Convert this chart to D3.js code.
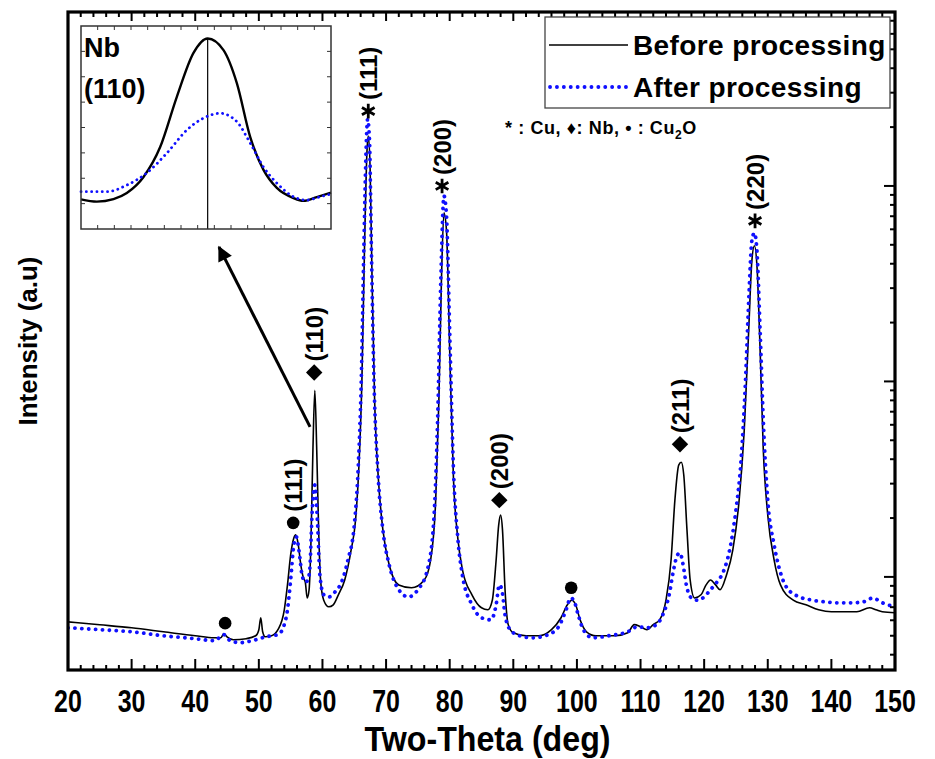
<!DOCTYPE html>
<html>
<head>
<meta charset="utf-8">
<script src="https://cdn.jsdelivr.net/npm/d3@7"></script>
<style>
  body { margin: 0; background: #fff; }
</style>
</head>
<body>
<div id="chart"></div>
<script>
// XRD pattern, counts (log intensity axis)
const beforeTheta = [20, 25, 30, 35, 40, 43, 44, 44.5, 45, 46, 48, 49.5, 50, 50.3, 50.6, 51, 52, 53, 54, 54.5,
  55, 55.5, 55.8, 56.2, 56.6, 57, 57.3, 57.6, 57.9, 58.2, 58.5, 58.8, 59.1, 59.4, 59.7, 60.2, 61, 61.7, 62.5, 63.5,
  64.5, 65.2, 65.7, 66.2, 66.6, 67, 67.2, 67.5, 67.8, 68.2, 68.8, 69.5, 70.5, 72, 74, 76, 77, 77.8, 78.3, 78.7,
  79.1, 79.5, 80, 80.6, 81.3, 82, 83.5, 85, 86, 86.7, 87.3, 87.7, 88, 88.3, 88.7, 89.2, 90, 92, 94, 96,
  97.5, 98.5, 99.2, 99.8, 100.5, 101.5, 103, 106, 108, 109, 110, 111, 112, 113, 114, 114.8, 115.4, 116, 116.4, 116.8,
  117.3, 117.8, 118.5, 119.5, 120.3, 121, 121.8, 122.5, 123.5, 124.5, 125.5, 126.3, 127, 127.5, 127.9, 128.3, 128.8, 129.3, 130, 131,
  132, 134, 136, 138, 140, 142, 144, 146, 147, 148, 150]
const beforeIntensity = [58.9, 56.9, 54.9, 52.4, 50, 48.8, 48.8, 51.2, 49.4, 47.7, 48.3, 50, 53.7, 61.8, 52.4, 49.4, 50, 53.7, 67.9, 91,
  129.5, 158, 164, 146, 115, 99, 94, 78, 86, 155, 445, 900, 445, 174, 96.5, 76, 70.3, 72, 81, 96.5,
  137, 195, 351, 1012, 4660, 15090, 17990, 11930, 3275, 800, 313, 174, 115, 91, 88, 96.5, 122, 247, 800, 3275,
  7280, 5890, 1439, 313, 155, 109, 81, 69.5, 67.9, 76, 122, 184, 207, 174, 86, 57, 51.8, 50, 50, 53.7,
  61.8, 72, 76, 72, 60.3, 52.4, 50, 50, 51.8, 57, 55.6, 53.7, 57, 60.3, 76, 122, 247, 373, 386, 331,
  174, 96.5, 78, 81, 91, 96.5, 91, 86, 102, 137, 247, 562, 1820, 4140, 4940, 3906, 1439, 445, 207, 122,
  91, 76, 72, 67.9, 66.3, 66.3, 66.3, 69.5, 67.9, 66.3, 65.5]

const afterTheta = [20, 25, 30, 35, 40, 43, 44.5, 45.5, 47, 49, 50.5, 52, 53, 54, 54.5, 55, 55.5, 55.9, 56.3, 56.8,
  57.3, 57.7, 58, 58.4, 58.8, 59.2, 59.6, 60.2, 61, 62, 63, 64, 65, 65.6, 66.1, 66.5, 66.9, 67.1, 67.4, 67.7,
  68.1, 68.7, 69.5, 70.5, 72, 73.5, 75, 76.5, 77.5, 78.1, 78.6, 79.1, 79.5, 80, 80.6, 81.3, 82, 83.5, 85, 86.5,
  87.3, 87.8, 88.2, 88.7, 89.5, 91, 93, 95, 97, 98.3, 99, 99.5, 100.2, 101, 102.5, 105, 108, 109.5, 111, 112.5,
  113.5, 114.5, 115.2, 115.8, 116.2, 116.7, 117.2, 118, 119, 120, 121, 122, 123, 124, 125, 125.8, 126.5, 127, 127.5, 127.9,
  128.3, 128.8, 129.3, 130, 131, 132, 133, 135, 137, 139, 141, 143, 145, 146.5, 148, 150]
const afterIntensity = [54.9, 53.7, 52.4, 50, 48.3, 47.2, 50.6, 47.2, 46.1, 47.2, 48.8, 50, 50.6, 57, 67.9, 96.5, 146, 160, 137, 102,
  94, 96.5, 109, 220, 295, 195, 102, 81, 79, 84, 94, 122, 184, 351, 1012, 4660, 16970, 21980, 16970, 4660,
  1012, 351, 174, 115, 86, 79, 86, 109, 195, 632, 3275, 8890, 7030, 1820, 351, 155, 102, 72, 61.8, 60.3,
  72, 91, 86, 64, 53.7, 50, 48.8, 50, 54.9, 67.9, 78, 76, 64, 53.7, 48.8, 50, 52.4, 55.6, 54.9, 57,
  64, 81, 109, 129.5, 132.6, 115, 91, 78, 76, 79, 86, 94, 106, 137, 220, 395, 1012, 2589, 5240, 5754,
  4660, 1820, 632, 247, 146, 105, 88, 79, 76, 74.5, 73.7, 73.7, 74.5, 78, 73.7, 70.3]

// inset: Nb (110) close-up, linear intensity
const insetBeforeTheta = [57.5, 57.69, 57.89, 58.05, 58.25, 58.45, 58.65, 58.85, 59.02, 59.21, 59.37, 59.53, 59.69, 59.85, 60.05, 60.17, 60.33, 60.5]
const insetBeforeIntensity = [267, 258, 268, 292, 355, 473, 671, 844, 901, 855, 725, 513, 383, 312, 272, 261, 276, 293]
const insetAfterTheta = [57.5, 57.81, 58.05, 58.29, 58.53, 58.77, 58.97, 59.17, 59.37, 59.53, 59.69, 59.85, 60.05, 60.21, 60.37, 60.5]
const insetAfterIntensity = [297, 297, 323, 371, 449, 540, 587, 606, 573, 489, 394, 331, 277, 264, 277, 288]
const insetPeakTheta = 59.02
const insetPeakIntensity = 901

const xTickValues = [20, 30, 40, 50, 60, 70, 80, 90, 100, 110, 120, 130, 140, 150]

// peak markers
const peakTheta = [44.7, 55.4, 58.7, 67.2, 78.8, 87.8, 99.1, 116.2, 128.0]
const peakPhase = ["Cu2O", "Cu2O", "Nb", "Cu", "Cu", "Nb", "Cu2O", "Nb", "Cu"]
const peakHkl = ["", "(111)", "(110)", "(111)", "(200)", "(200)", "", "(211)", "(220)"]
const markerIntensity = [58, 189, 1111, 24150, 10000, 247, 88, 477, 6625]

const seriesNames = ["Before processing", "After processing"]

const W = 935, H = 759
const margin = { top: 12, right: 40, bottom: 89, left: 68 }
const plotW = W - margin.left - margin.right
const plotH = H - margin.top - margin.bottom
const sans = "'Liberation Sans', Arial, sans-serif"
const BLUE = "#1010ff"

const svg = d3.select("#chart").append("svg")
  .attr("width", W).attr("height", H)

const g = svg.append("g").attr("transform", `translate(${margin.left},${margin.top})`)

const x = d3.scaleLinear().domain([20, 150]).range([0, plotW])
const y = d3.scaleLog().domain([33.4, 77600]).range([plotH, 0])

g.append("clipPath").attr("id", "clip")
  .append("rect").attr("width", plotW).attr("height", plotH)

const line = d3.line()
  .x(d => x(d[0])).y(d => y(d[1]))
  .curve(d3.curveMonotoneX)

const before = d3.zip(beforeTheta, beforeIntensity)
const after = d3.zip(afterTheta, afterIntensity)

const curves = g.append("g").attr("clip-path", "url(#clip)")
curves.append("path").datum(before)
  .attr("d", line).attr("fill", "none")
  .attr("stroke", "#000").attr("stroke-width", 1.6)
curves.append("path").datum(after)
  .attr("d", line).attr("fill", "none")
  .attr("stroke", BLUE).attr("stroke-width", 3.8)
  .attr("stroke-linecap", "round")
  .attr("stroke-dasharray", "0.1 6.8")

// axes: bottom and top (inward ticks), right log ticks, no labels on y
const minorX = d3.range(20, 150.01, 2)
const bottomAxis = g.append("g").attr("transform", `translate(0,${plotH})`)
bottomAxis.selectAll("line").data(minorX).join("line")
  .attr("x1", d => x(d)).attr("x2", d => x(d))
  .attr("y1", 0).attr("y2", d => d % 10 === 0 ? -11 : -5)
  .attr("stroke", "#000").attr("stroke-width", 2)
// narrow bold digits: squeeze the sans face horizontally
bottomAxis.selectAll("text").data(xTickValues).join("text")
  .attr("transform", d => `translate(${x(d)},42) scale(0.78,1)`)
  .attr("text-anchor", "middle")
  .style("font", `bold 32px ${sans}`)
  .text(d => d)

const topAxis = g.append("g")
topAxis.selectAll("line").data(minorX).join("line")
  .attr("x1", d => x(d)).attr("x2", d => x(d))
  .attr("y1", 0).attr("y2", d => d % 10 === 0 ? 9 : 5)
  .attr("stroke", "#000").attr("stroke-width", 2)

const yTicks = []
for (let dec = 10; dec <= 10000; dec *= 10) {
  for (let m = 1; m < 10; m++) {
    const v = dec * m
    if (v >= 33.4 && v <= 77600) yTicks.push(v)
  }
}
const rightAxis = g.append("g").attr("transform", `translate(${plotW},0)`)
rightAxis.selectAll("line").data(yTicks).join("line")
  .attr("y1", d => y(d)).attr("y2", d => y(d))
  .attr("x1", 0).attr("x2", d => [100, 1000, 10000].includes(d) ? -11 : -5)
  .attr("stroke", "#000").attr("stroke-width", 2)

g.append("rect")
  .attr("width", plotW).attr("height", plotH)
  .attr("fill", "none").attr("stroke", "#000").attr("stroke-width", 3.2)

// axis titles
svg.append("text")
  .attr("transform", `translate(${margin.left + plotW / 2 + 6},751) scale(0.92,1)`)
  .attr("text-anchor", "middle")
  .style("font", `bold 35px ${sans}`)
  .text("Two-Theta (deg)")
svg.append("text")
  .attr("transform", `translate(37,${margin.top + plotH / 2}) rotate(-90)`)
  .attr("text-anchor", "middle")
  .style("font", `bold 26px ${sans}`)
  .text("Intensity (a.u)")

// peak markers and hkl labels
const symbolFor = {
  Cu: d3.symbol(d3.symbolAsterisk, 150),
  Nb: d3.symbol(d3.symbolSquare, 135),
  Cu2O: d3.symbol(d3.symbolCircle, 125)
}
const peaks = g.append("g").selectAll("g")
  .data(d3.range(peakTheta.length))
  .join("g")
  .attr("transform", i => `translate(${x(peakTheta[i])},${y(markerIntensity[i])})`)
peaks.append("path")
  .attr("d", i => symbolFor[peakPhase[i]]())
  .attr("transform", i => peakPhase[i] === "Nb" ? "rotate(45)" : null)
  .attr("fill", i => peakPhase[i] === "Cu" ? "none" : "#000")
  .attr("stroke", i => peakPhase[i] === "Cu" ? "#000" : "none")
  .attr("stroke-width", 2.8)
peaks.append("text")
  .attr("transform", "translate(0,-11) rotate(-90)")
  .attr("dy", "0.36em")
  .style("font", `bold 24px ${sans}`)
  .text(i => peakHkl[i])

// legend
const legend = svg.append("g")
legend.append("rect")
  .attr("x", 545).attr("y", 17).attr("width", 345).attr("height", 91)
  .attr("fill", "#fff").attr("stroke", "#444").attr("stroke-width", 1.3)
legend.append("line")
  .attr("x1", 549).attr("x2", 628).attr("y1", 45).attr("y2", 45)
  .attr("stroke", "#000").attr("stroke-width", 1.6)
legend.append("line")
  .attr("x1", 550).attr("x2", 628).attr("y1", 87).attr("y2", 87)
  .attr("stroke", BLUE).attr("stroke-width", 3.8)
  .attr("stroke-linecap", "round").attr("stroke-dasharray", "0.1 6.8")
legend.selectAll("text.series").data(seriesNames).join("text")
  .attr("class", "series")
  .attr("x", 633).attr("y", (d, i) => 55 + i * 42)
  .style("font", `bold 28px ${sans}`)
  .style("letter-spacing", "0.4px")
  .text(d => d)

const key = svg.append("text")
  .attr("x", 505).attr("y", 134)
  .style("font", `bold 18px ${sans}`)
  .style("letter-spacing", "0.6px")
key.append("tspan").text("* : Cu,  \u2666: Nb,  \u2022 : Cu")
key.append("tspan").attr("dy", 5).style("font-size", "12px").text("2")
key.append("tspan").attr("dy", -5).text("O")

// inset
const inset = { x: 81, y: 26, w: 250, h: 203 }
const ix = d3.scaleLinear().domain([57.5, 60.5]).range([0, inset.w])
const iy = d3.scaleLinear().domain([150, 950]).range([inset.h, 0])
const ig = svg.append("g").attr("transform", `translate(${inset.x},${inset.y})`)
ig.append("rect").attr("width", inset.w).attr("height", inset.h).attr("fill", "#fff")

const iline = d3.line().x(d => ix(d[0])).y(d => iy(d[1])).curve(d3.curveMonotoneX)
ig.append("line")
  .attr("x1", ix(insetPeakTheta)).attr("x2", ix(insetPeakTheta))
  .attr("y1", inset.h).attr("y2", iy(insetPeakIntensity))
  .attr("stroke", "#000").attr("stroke-width", 1.2)
ig.append("path").datum(d3.zip(insetBeforeTheta, insetBeforeIntensity))
  .attr("d", iline).attr("fill", "none")
  .attr("stroke", "#000").attr("stroke-width", 2.4)
ig.append("path").datum(d3.zip(insetAfterTheta, insetAfterIntensity))
  .attr("d", iline).attr("fill", "none")
  .attr("stroke", BLUE).attr("stroke-width", 2.8)
  .attr("stroke-linecap", "round").attr("stroke-dasharray", "0.1 5.2")

const ixTicks = d3.range(57.7, 60.41, 0.2)
const iyTicks = d3.range(250, 901, 100)
ig.selectAll("line.tb").data(ixTicks.flatMap(t => [[t, 0], [t, inset.h]])).join("line")
  .attr("class", "tb")
  .attr("x1", d => ix(d[0])).attr("x2", d => ix(d[0]))
  .attr("y1", d => d[1]).attr("y2", d => d[1] === 0 ? 4 : inset.h - 4)
  .attr("stroke", "#333").attr("stroke-width", 1)
ig.selectAll("line.lr").data(iyTicks.flatMap(t => [[t, 0], [t, inset.w]])).join("line")
  .attr("class", "lr")
  .attr("y1", d => iy(d[0])).attr("y2", d => iy(d[0]))
  .attr("x1", d => d[1]).attr("x2", d => d[1] === 0 ? 4 : inset.w - 4)
  .attr("stroke", "#333").attr("stroke-width", 1)
ig.append("rect").attr("width", inset.w).attr("height", inset.h)
  .attr("fill", "none").attr("stroke", "#333").attr("stroke-width", 1.5)
ig.append("text").attr("x", 3).attr("y", 31)
  .style("font", `bold 27px ${sans}`).text("Nb")
ig.append("text").attr("x", 3).attr("y", 72)
  .style("font", `bold 27px ${sans}`).text("(110)")

// arrow from the Nb (110) peak to the inset
svg.append("defs").append("marker")
  .attr("id", "head").attr("viewBox", "0 0 10 10")
  .attr("refX", 9).attr("refY", 5)
  .attr("markerWidth", 5.5).attr("markerHeight", 5)
  .attr("orient", "auto")
  .append("path").attr("d", "M0,0L10,5L0,10Z").attr("fill", "#000")
svg.append("line")
  .attr("x1", margin.left + x(58.05)).attr("y1", margin.top + y(585))
  .attr("x2", inset.x + 138).attr("y2", inset.y + inset.h + 18)
  .attr("stroke", "#000").attr("stroke-width", 3)
  .attr("marker-end", "url(#head)")
</script>
</body>
</html>
